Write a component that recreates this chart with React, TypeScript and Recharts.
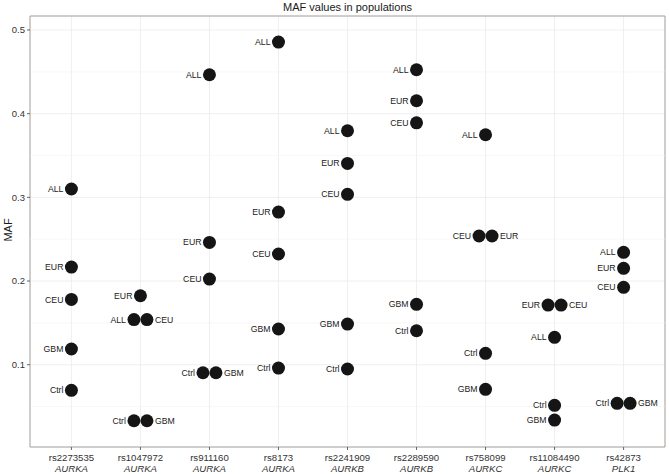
import {
  ScatterChart,
  Scatter,
  XAxis,
  YAxis,
  CartesianGrid,
  ReferenceLine,
  ReferenceArea,
} from 'recharts'

// SNPs and their genes, in axis order
const snps = [
  'rs2273535',
  'rs1047972',
  'rs911160',
  'rs8173',
  'rs2241909',
  'rs2289590',
  'rs758099',
  'rs11084490',
  'rs42873',
]
const genes = ['AURKA', 'AURKA', 'AURKA', 'AURKA', 'AURKB', 'AURKB', 'AURKC', 'AURKC', 'PLK1']

// MAF per population, one value per SNP
const ALL = [0.31, 0.154, 0.4465, 0.4855, 0.3796, 0.4525, 0.3748, 0.1327, 0.2343]
const EUR = [0.2167, 0.1824, 0.2462, 0.2824, 0.3406, 0.4154, 0.2538, 0.1713, 0.2152]
const CEU = [0.178, 0.154, 0.2024, 0.2323, 0.3036, 0.389, 0.2538, 0.1713, 0.1925]
const GBM = [0.1188, 0.0331, 0.0904, 0.1427, 0.1486, 0.1722, 0.0706, 0.0339, 0.0539]
const Ctrl = [0.0694, 0.0331, 0.0904, 0.096, 0.0949, 0.1406, 0.1136, 0.0515, 0.0539]

// dodge of overlapping points: -1 left, 0 centre, 1 right
const ALLdodge = [0, -1, 0, 0, 0, 0, 0, 0, 0]
const EURdodge = [0, 0, 0, 0, 0, 0, 1, -1, 0]
const CEUdodge = [0, 1, 0, 0, 0, 0, -1, 1, 0]
const GBMdodge = [0, 1, 1, 0, 0, 0, 0, 0, 1]
const Ctrldodge = [0, -1, -1, 0, 0, 0, 0, 0, -1]

const yTicks = [0.1, 0.2, 0.3, 0.4, 0.5]
const yMinor = [0.05, 0.15, 0.25, 0.35, 0.45]

const DODGE = 0.094

const pops: [string, number[], number[]][] = [
  ['ALL', ALL, ALLdodge],
  ['EUR', EUR, EURdodge],
  ['CEU', CEU, CEUdodge],
  ['GBM', GBM, GBMdodge],
  ['Ctrl', Ctrl, Ctrldodge],
]

const points = pops.flatMap(([pop, vals, dodge]) =>
  vals.map((v, i) => ({ x: i + dodge[i] * DODGE, maf: v, pop, side: dodge[i] }))
)

const font = 'Liberation Sans, Arial, sans-serif'

function Dot(props: any) {
  const { cx, cy, payload } = props
  const right = payload.side === 1
  return (
    <g>
      <circle cx={cx} cy={cy} r={6.5} fill="#151515" />
      <text
        x={right ? cx + 8 : cx - 8}
        y={cy}
        dy="0.35em"
        textAnchor={right ? 'start' : 'end'}
        fontSize={8.7}
        fontFamily={font}
        fill="#1a1a1a"
      >
        {payload.pop}
      </text>
    </g>
  )
}

function SnpTick(props: any) {
  const { x, y, payload } = props
  const i = payload.value
  return (
    <g transform={`translate(${x},${y})`}>
      <text textAnchor="middle" fontSize={9.6} fontFamily={font} fill="#333">
        <tspan x={0} dy={9}>{snps[i]}</tspan>
        <tspan x={0} dy={10.5} fontStyle="italic">{genes[i]}</tspan>
      </text>
    </g>
  )
}

export default function App() {
  return (
    <div style={{ position: 'absolute', left: 0, top: 0, width: 669, height: 474, background: '#fff' }}>
      <div
        style={{
          position: 'absolute',
          top: 1,
          width: 669,
          left: 13,
          textAlign: 'center',
          fontFamily: font,
          fontSize: 11,
          color: '#1a1a1a',
        }}
      >
        MAF values in populations
      </div>
      <div
        style={{
          position: 'absolute',
          left: -4,
          top: 224,
          transform: 'rotate(-90deg)',
          fontFamily: font,
          fontSize: 11,
          color: '#1a1a1a',
        }}
      >
        MAF
      </div>
      <ScatterChart width={669} height={474} margin={{ top: 16, right: 4, bottom: 0, left: 0 }}>
        <CartesianGrid stroke="#ebebeb" strokeWidth={0.8} />
        {yMinor.map((v) => (
          <ReferenceLine key={v} y={v} stroke="#f4f4f4" strokeWidth={0.6} />
        ))}
        <ReferenceArea
          x1={-0.6}
          x2={8.6}
          y1={0.0017}
          y2={0.5167}
          fill="none"
          stroke="#a8a29c"
          strokeWidth={1}
        />
        <XAxis
          type="number"
          dataKey="x"
          domain={[-0.6, 8.6]}
          ticks={snps.map((_, i) => i)}
          interval={0}
          height={27}
          tick={<SnpTick />}
          tickSize={3}
          axisLine={false}
          tickLine={{ stroke: '#666' }}
        />
        <YAxis
          type="number"
          dataKey="maf"
          domain={[0.0017, 0.5167]}
          ticks={yTicks}
          width={30}
          tickSize={3}
          axisLine={false}
          tickLine={{ stroke: '#666' }}
          tick={{ fontSize: 9.5, fontFamily: font, fill: '#333' }}
          tickFormatter={(v: number) => String(v)}
        />
        <Scatter data={points} shape={<Dot />} isAnimationActive={false} />
      </ScatterChart>
    </div>
  )
}
